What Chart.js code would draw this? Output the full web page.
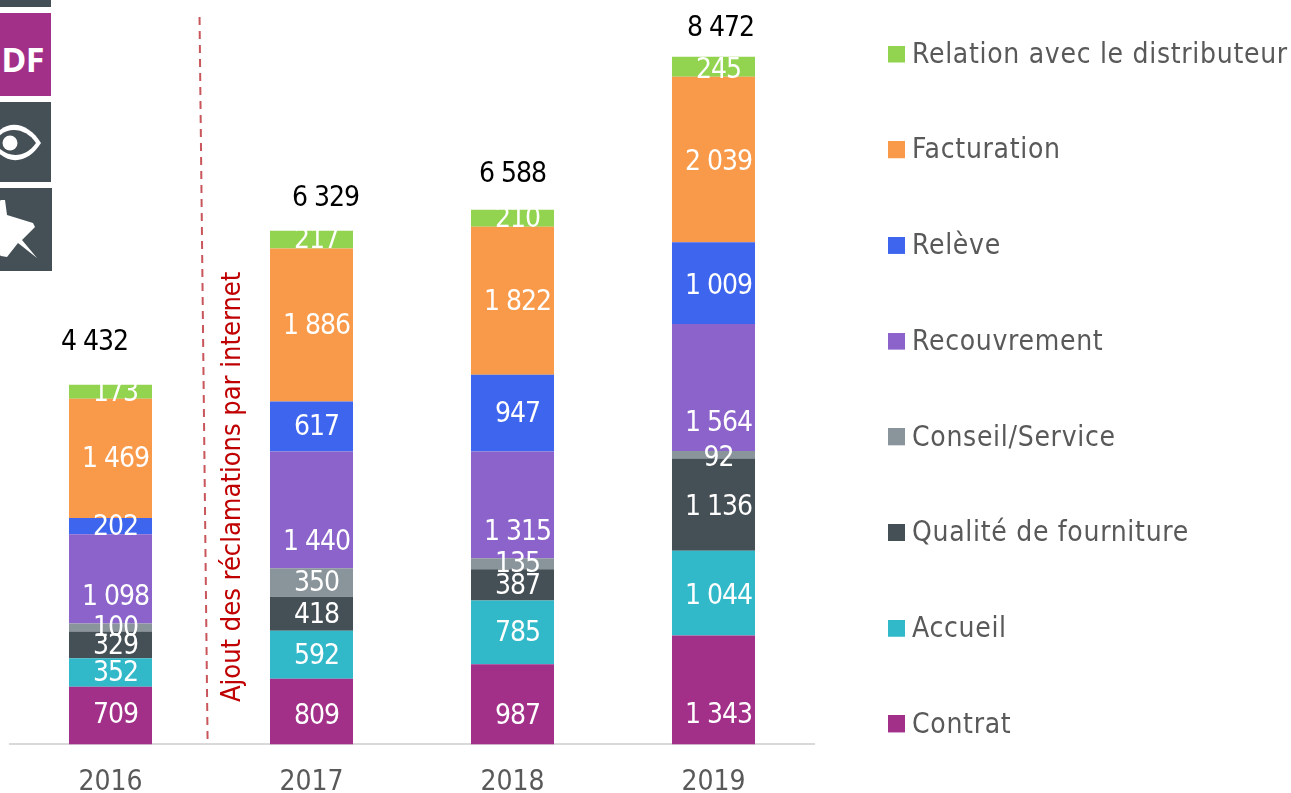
<!DOCTYPE html>
<html lang="fr">
<head>
<meta charset="utf-8">
<title>Réclamations par catégorie</title>
<script src="https://cdn.jsdelivr.net/npm/chart.js@4/dist/chart.umd.min.js"></script>
<style>
html,body{margin:0;padding:0;background:#fff;overflow:hidden}
#wrap{position:relative;width:1291px;height:793px}
canvas{position:absolute;left:0;top:0}
.ic{position:absolute;left:0;width:51px;background:#454F56;overflow:hidden}
.pdf{background:#A23088;color:#fff;font:700 34px "Open Sans",sans-serif}
.pdf span{position:absolute;right:7px;top:23px;line-height:46px;letter-spacing:-.5px}
</style>
</head>
<body>
<div id="wrap">
<canvas id="c" width="1291" height="793"></canvas>
<div class="ic" style="top:0;height:7px"></div>
<div class="ic pdf" style="top:13px;height:83px"><span>DF</span></div>
<div class="ic" style="top:102px;height:80px">
<svg width="51" height="80" viewBox="0 0 51 80"><path d="M-10 40 C5 14 28 20 41 41 C28 62 5 66 -10 40Z" fill="#fff"/><path d="M-6 40 C5 23 25 25 36 41 C25 57 5 57 -6 40Z" fill="#454F56"/><circle cx="10" cy="41" r="7.5" fill="#fff"/></svg>
</div>
<div class="ic" style="top:188px;height:83px;width:52px">
<svg width="52" height="83" viewBox="0 0 52 83"><path d="M1 12 L5 12 L7 27 L33 35 L35 39 L22 52 L37 70 L18 55 L7 69 L1 68 L-2 66 L-2 14Z" fill="#fff"/></svg>
</div>
</div>
<script>
const categories = ["2016", "2017", "2018", "2019"];
const contrat      = [709, 809, 987, 1343];
const accueil      = [352, 592, 785, 1044];
const qualite      = [329, 418, 387, 1136];
const conseil      = [100, 350, 135, 92];
const recouvrement = [1098, 1440, 1315, 1564];
const releve       = [202, 617, 947, 1009];
const facturation  = [1469, 1886, 1822, 2039];
const relation     = [173, 217, 210, 245];
const totals       = [4432, 6329, 6588, 8472];
const seriesNames  = ["Contrat","Accueil","Qualité de fourniture","Conseil/Service","Recouvrement","Relève","Facturation","Relation avec le distributeur"];
const seriesValues = [contrat,accueil,qualite,conseil,recouvrement,releve,facturation,relation];
const seriesColors = ["#A23088","#31B9C9","#454F56","#8A959B","#8B63CB","#3E65EE","#F9994A","#92D34F"];
const annotationText = "Ajout des réclamations par internet";

const FONT = '"DejaVu Sans Condensed","DejaVu Sans",sans-serif';
const SIZE = 28;
const fmt = v => String(v).replace(/\B(?=(\d{3})+$)/g, " ");

// Label placement tweaks (pixels) as seen in the reference
const contratNudge = [-1, 4, 11, 24];
const recouvrementNudge = [17, 31, 26, 35];
const columnNudge = [0, 0, 0, 2];
const totalNudgeX = [-16, 14, 0, 7];
const totalNudgeY = [-43, -34, -37, -30];

function swatch(color){
  const s = document.createElement("canvas");
  s.width = 17; s.height = 20;
  const g = s.getContext("2d");
  g.fillStyle = color; g.fillRect(0,0,17,17);
  return s;
}

const labelsPlugin = {
  id: "labels",
  afterDatasetsDraw(chart){
    const {ctx, scales:{x,y}} = chart;
    ctx.save();
    ctx.textAlign = "center";
    ctx.textBaseline = "middle";
    ctx.font = SIZE + "px " + FONT;
    ctx.letterSpacing = "-1px";
    ctx.fillStyle = "#fff";
    chart.data.datasets.forEach((ds, i) => {
      chart.getDatasetMeta(i).data.forEach((bar, j) => {
        let nudge = columnNudge[j];
        if (ds.label === "Recouvrement") nudge = recouvrementNudge[j];
        if (ds.label === "Contrat") nudge = contratNudge[j];
        ctx.fillText(fmt(ds.data[j]), bar.x + 5, (bar.y + bar.base)/2 + nudge + 1.5);
      });
    });
    ctx.fillStyle = "#000";
    totals.forEach((t, j) => {
      ctx.fillText(fmt(t), x.getPixelForValue(j) + totalNudgeX[j], y.getPixelForValue(t) + totalNudgeY[j] + 1.5);
    });
    ctx.letterSpacing = "0px";
    // red annotation: separator and rotated note
    const x0 = x.getPixelForValue(0);
    const step = x.getPixelForValue(1) - x0;
    ctx.strokeStyle = "#C8565B";
    ctx.lineWidth = 2;
    ctx.setLineDash([8, 6]);
    ctx.beginPath();
    ctx.moveTo(x0 + step*0.443, y.getPixelForValue(8963));
    ctx.lineTo(x0 + step*0.483, y.getPixelForValue(37));
    ctx.stroke();
    ctx.setLineDash([]);
    ctx.translate(x0 + step*0.607, y.getPixelForValue(3173));
    ctx.rotate(-Math.PI/2);
    ctx.fillStyle = "#C00000";
    ctx.font = "27px " + FONT;
    ctx.fillText(annotationText, 0, 0);
    ctx.restore();
  }
};

const legendPlace = {
  id: "legendPlace",
  beforeLayout(chart){
    const l = chart.legend;
    if (l._placed) return;
    l._placed = true;
    const fit = l.fit, draw = l.draw;
    l.fit = function(){
      this.maxHeight = 1200;
      fit.call(this);
      this.width = 477;
    };
    l.draw = function(){
      this.ctx.save();
      this.ctx.letterSpacing = "0.7px";
      draw.call(this);
      this.ctx.restore();
    };
  },
  afterLayout(chart){
    const l = chart.legend;
    l.left = 826.3;
    l.top = -26.2;
  }
};

new Chart(document.getElementById("c"), {
  type: "bar",
  data: {
    labels: categories,
    datasets: seriesNames.map((n, i) => ({
      label: n,
      data: seriesValues[i],
      backgroundColor: seriesColors[i],
      pointStyle: swatch(seriesColors[i]),
      categoryPercentage: 1,
      barPercentage: 0.413
    }))
  },
  options: {
    responsive: false,
    animation: false,
    layout: { padding: { left: 10, top: 14, right: 0, bottom: -21 } },
    plugins: {
      tooltip: { enabled: false },
      legend: {
        position: "right",
        align: "start",
        reverse: true,
        labels: {
          usePointStyle: true,
          pointStyleWidth: 4,
          boxHeight: 17,
          padding: 67.7,
          color: "#595959",
          font: { family: FONT, size: SIZE }
        }
      }
    },
    scales: {
      x: {
        stacked: true,
        grid: { display: false },
        border: { color: "#D9D9D9", width: 2 },
        ticks: { color: "#595959", font: { family: FONT, size: SIZE }, padding: 14, maxRotation: 0, autoSkip: false }
      },
      y: { stacked: true, display: false, min: 0, max: 9000 }
    }
  },
  plugins: [labelsPlugin, legendPlace]
});
</script>
</body>
</html>
